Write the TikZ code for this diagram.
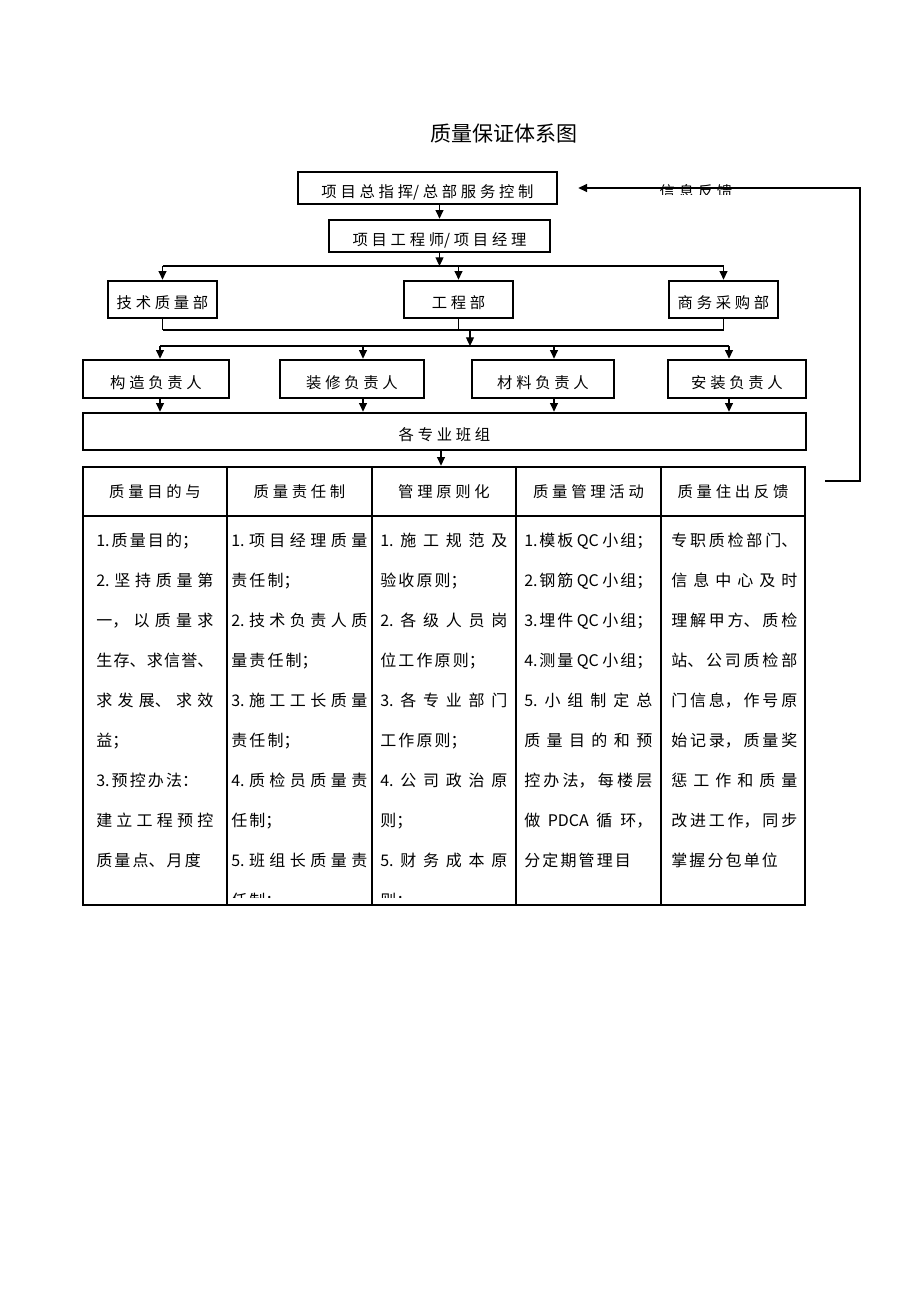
\documentclass[tikz,border=0pt]{standalone}
\usepackage{fontspec}
\setmainfont{Noto Sans CJK SC}
\usetikzlibrary{arrows.meta}
\XeTeXlinebreaklocale "zh"
\XeTeXlinebreakskip=0pt plus 2pt
\hbadness=10000
\parindent=0pt
\newcommand{\boxlabelfont}{\XeTeXlinebreakskip=2.8pt\fontsize{11.5}{14}\selectfont}

\begin{document}
\begin{tikzpicture}[
    x=0.75pt, y=-0.75pt,
    arrowtip/.style={
      -{Triangle[length=6.5pt,width=6pt]}
    },
    conn/.style={line width=0.9pt},
    framed/.style={draw,line width=2pt,inner sep=0pt,align=center,
      text height=1.5em,text depth=0.15em,font=\boxlabelfont},
    headcell/.style={draw,line width=2pt,inner sep=0pt,align=center,
      text width=100pt,minimum height=36.75pt,font=\boxlabelfont},
    bodycell/.style={draw,line width=2pt,inner sep=0pt,
      minimum height=291.75pt},
    celltext/.style={anchor=north west,inner sep=0pt,align=justify,
      font={\XeTeXlinebreakskip=1.6pt plus 2pt minus 1.6pt\fontsize{12}{30}\selectfont}}
  ]
    \useasboundingbox (0,0) rectangle (920,1302);

    \node[font=\fontsize{15.75}{18}\selectfont] (title) at (504,134) {质量保证体系图};

    % upper boxes
    \node[framed,text width=185pt,minimum width=194.25pt,minimum height=24pt] (cmd) at (427.5,188) {项目总指挥/总部服务控制};
    \node[framed,text width=155pt,minimum width=165.75pt,minimum height=24pt] (pm) at (439.5,236) {项目工程师/项目经理};

    \node[framed,text width=78pt,minimum width=81.75pt,minimum height=27.75pt] (tech) at (162.5,299.5) {技术质量部};
    \node[framed,text width=78pt,minimum width=81.75pt,minimum height=27.75pt] (proj) at (458.5,299.5) {工程部};
    \node[framed,text width=78pt,minimum width=81.75pt,minimum height=27.75pt] (biz) at (723.5,299.5) {商务采购部};

    \node[framed,text width=100pt,minimum width=109.5pt,minimum height=28.5pt] (gz) at (156,379) {构造负责人};
    \node[framed,text width=100pt,minimum width=108pt,minimum height=28.5pt] (zx) at (352,379) {装修负责人};
    \node[framed,text width=100pt,minimum width=106.5pt,minimum height=28.5pt] (cl) at (543,379) {材料负责人};
    \node[framed,text width=100pt,minimum width=103.5pt,minimum height=28.5pt] (az) at (737,379) {安装负责人};

    \node[framed,text width=500pt,minimum width=542.25pt,minimum height=27.75pt] (team) at (444.5,431.5) {各专业班组};

    % table
    \node[headcell,minimum width=108pt] (h1) at (155,491.5) {质量目的与};
    \node[headcell,minimum width=108.75pt] (h2) at (299.5,491.5) {质量责任制};
    \node[headcell,minimum width=108pt] (h3) at (444,491.5) {管理原则化};
    \node[headcell,minimum width=108.75pt] (h4) at (588.5,491.5) {质量管理活动};
    \node[headcell,minimum width=108pt] (h5) at (733,491.5) {质量住出反馈};

    \node[bodycell,minimum width=108pt] (b1) at (155,710.5) {};
    \node[bodycell,minimum width=108.75pt] (b2) at (299.5,710.5) {};
    \node[bodycell,minimum width=108pt] (b3) at (444,710.5) {};
    \node[bodycell,minimum width=108.75pt] (b4) at (588.5,710.5) {};
    \node[bodycell,minimum width=108pt] (b5) at (733,710.5) {};

    \begin{scope}
      \clip (85,518) rectangle (803,897);
      \node[celltext,text width=87.75pt] (t1) at (96,533) {%
        1.质量目的；\newline
        2.坚持质量第\linebreak
        一，以质量求\linebreak
        生存、求信誉、\linebreak
        求发展、求效\linebreak
        益；\newline
        3.预控办法：\newline
        建立工程预控\linebreak
        质量点、月度};
      \node[celltext,text width=102pt] (t2) at (231,533) {%
        1.项目经理质量\linebreak
        责任制；\newline
        2.技术负责人质\linebreak
        量责任制；\newline
        3.施工工长质量\linebreak
        责任制；\newline
        4.质检员质量责\linebreak
        任制；\newline
        5.班组长质量责\linebreak
        任制；};
      \node[celltext,text width=95.25pt] (t3) at (380,533) {%
        1.施工规范及\linebreak
        验收原则；\newline
        2.各级人员岗\linebreak
        位工作原则；\newline
        3.各专业部门\linebreak
        工作原则；\newline
        4.公司政治原\linebreak
        则；\newline
        5.财务成本原\linebreak
        则；};
      \node[celltext,text width=96pt] (t4) at (524,533) {%
        1.模板 QC 小组；\linebreak
        2.钢筋 QC 小组；\linebreak
        3.埋件 QC 小组；\linebreak
        4.测量 QC 小组；\linebreak
        5.小组制定总\linebreak
        质量目的和预\linebreak
        控办法，每楼层\linebreak
        做 PDCA 循环，\linebreak
        分定期管理目};
      \node[celltext,text width=94.5pt] (t5) at (671,533) {%
        专职质检部门、\linebreak
        信息中心及时\linebreak
        理解甲方、质检\linebreak
        站、公司质检部\linebreak
        门信息，作号原\linebreak
        始记录，质量奖\linebreak
        惩工作和质量\linebreak
        改进工作，同步\linebreak
        掌握分包单位};
    \end{scope}

    % connectors
    \coordinate (bus1) at (0,266);
    \coordinate (bus2) at (0,330);
    \coordinate (bus3) at (0,346);
    \coordinate (join) at (470,330);
    \coordinate (gzin) at (160,0);
    \coordinate (zxin) at (363,0);
    \coordinate (clin) at (554,0);
    \coordinate (azin) at (729,0);
    \coordinate (tin) at (441,0);

    \draw[conn,arrowtip] (pm.north |- cmd.south) -- (pm.north);
    \draw[conn,arrowtip] (pm.south) -- (pm.south |- bus1);
    \draw[conn] (tech.north |- bus1) -- (biz.north |- bus1);
    \foreach \n in {tech,proj,biz}
      \draw[conn,arrowtip] (\n.north |- bus1) -- (\n.north);

    \foreach \n in {tech,proj,biz}
      \draw[conn] (\n.south) -- (\n.south |- bus2);
    \draw[conn] (tech.south |- bus2) -- (biz.south |- bus2);
    \draw[conn,arrowtip] (join) -- (join |- bus3);
    \draw[conn] (gzin |- bus3) -- (azin |- bus3);

    \foreach \c/\n in {gzin/gz,zxin/zx,clin/cl,azin/az} {
      \draw[conn,arrowtip] (\c |- bus3) -- (\c |- \n.north);
      \draw[conn,arrowtip] (\c |- \n.south) -- (\c |- team.north);
    }
    \draw[conn,arrowtip] (tin |- team.south) -- (tin |- h3.north);

    % feedback loop
    \coordinate (fbstart) at (825,481);
    \coordinate (fbcorner) at (860,481);
    \draw[conn,arrowtip,shorten >=15pt] (fbstart) -- (fbcorner) |- (cmd.east);
    \begin{scope}
      \clip (620,175) rectangle (780,194);
      \node[font=\boxlabelfont,text width=90pt,align=center] (fb) at (696,192) {信息反馈};
    \end{scope}
\end{tikzpicture}
\end{document}
